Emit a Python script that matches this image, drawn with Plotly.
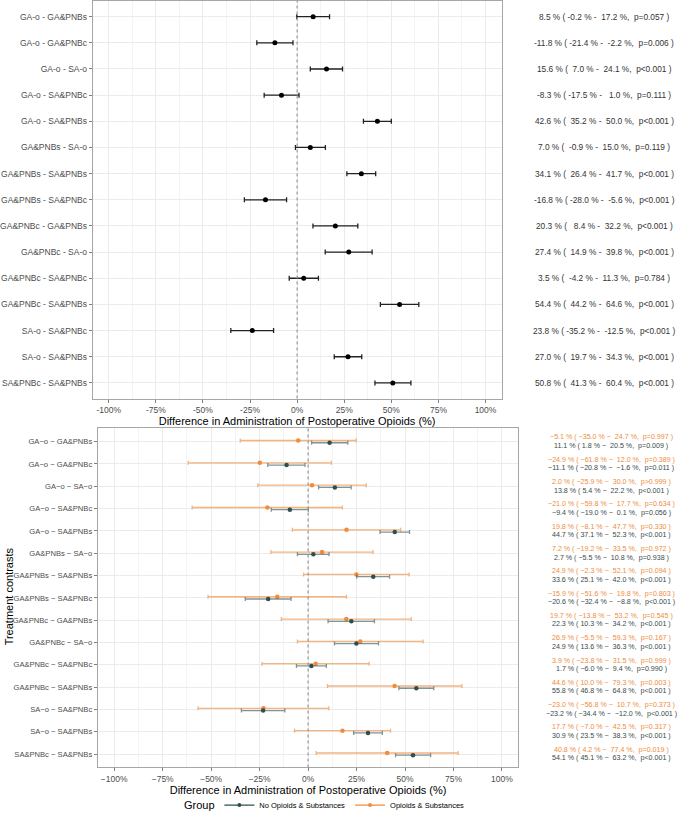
import plotly.graph_objects as go

# contrasts (top panel uses hyphens, bottom uses minus signs as in the figure)
contrasts = ["GA-o - GA&PNBs", "GA-o - GA&PNBc", "GA-o - SA-o", "GA-o - SA&PNBc",
             "GA-o - SA&PNBs", "GA&PNBs - SA-o", "GA&PNBs - SA&PNBs", "GA&PNBs - SA&PNBc",
             "GA&PNBc - GA&PNBs", "GA&PNBc - SA-o", "GA&PNBc - SA&PNBc", "GA&PNBc - SA&PNBs",
             "SA-o - SA&PNBc", "SA-o - SA&PNBs", "SA&PNBc - SA&PNBs"]
contrasts_b = [c.replace("-", "\u2212") for c in contrasts]

# top panel: overall difference (%)
all_est = [8.5, -11.8, 15.6, -8.3, 42.6, 7.0, 34.1, -16.8, 20.3, 27.4, 3.5, 54.4, -23.8, 27.0, 50.8]
all_lo = [-0.2, -21.4, 7.0, -17.5, 35.2, -0.9, 26.4, -28.0, 8.4, 14.9, -4.2, 44.2, -35.2, 19.7, 41.3]
all_hi = [17.2, -2.2, 24.1, 1.0, 50.0, 15.0, 41.7, -5.6, 32.2, 39.8, 11.3, 64.6, -12.5, 34.3, 60.4]
all_text = [
    "8.5 % ( -0.2 % -  17.2 %,  p=0.057 )",
    "-11.8 % ( -21.4 % -  -2.2 %,  p=0.006 )",
    "15.6 % (  7.0 % -  24.1 %,  p<0.001 )",
    "-8.3 % ( -17.5 % -   1.0 %,  p=0.111 )",
    "42.6 % (  35.2 % -  50.0 %,  p<0.001 )",
    "7.0 % (  -0.9 % -  15.0 %,  p=0.119 )",
    "34.1 % (  26.4 % -  41.7 %,  p<0.001 )",
    "-16.8 % ( -28.0 % -  -5.6 %,  p<0.001 )",
    "20.3 % (   8.4 % -  32.2 %,  p<0.001 )",
    "27.4 % (  14.9 % -  39.8 %,  p<0.001 )",
    "3.5 % (  -4.2 % -  11.3 %,  p=0.784 )",
    "54.4 % (  44.2 % -  64.6 %,  p<0.001 )",
    "23.8 % ( -35.2 % -  -12.5 %,  p<0.001 )",
    "27.0 % (  19.7 % -  34.3 %,  p<0.001 )",
    "50.8 % (  41.3 % -  60.4 %,  p<0.001 )",
]

# bottom panel: by group
op_est = [-5.1, -24.9, 2.0, -21.0, 19.8, 7.2, 24.9, -15.9, 19.7, 26.9, 3.9, 44.6, -23.0, 17.7, 40.8]
op_lo = [-35.0, -61.8, -25.9, -59.8, -8.1, -19.2, -2.3, -51.6, -13.8, -5.5, -23.8, 10.0, -56.8, -7.0, 4.2]
op_hi = [24.7, 12.0, 30.0, 17.7, 47.7, 33.5, 52.1, 19.8, 53.2, 59.3, 31.5, 79.3, 10.7, 42.5, 77.4]
op_p = ["=0.997", "=0.389", ">0.999", "=0.634", "=0.330", "=0.972", "=0.094", "=0.803",
        "=0.545", "=0.167", "=0.999", "=0.003", "=0.373", "=0.317", "=0.019"]

no_est = [11.1, -11.1, 13.8, -9.4, 44.7, 2.7, 33.6, -20.6, 22.3, 24.9, 1.7, 55.8, -23.2, 30.9, 54.1]
no_lo = [1.8, -20.8, 5.4, -19.0, 37.1, -5.5, 25.1, -32.4, 10.3, 13.6, -6.0, 46.8, -34.4, 23.5, 45.1]
no_hi = [20.5, -1.6, 22.2, 0.1, 52.3, 10.8, 42.0, -8.8, 34.2, 36.3, 9.4, 64.8, -12.0, 38.3, 63.2]
no_p = ["=0.009", "=0.011", "<0.001", "=0.056", "<0.001", "=0.938", "<0.001", "<0.001",
        "<0.001", "<0.001", "=0.990", "<0.001", "<0.001", "<0.001", "<0.001"]

tick_vals = [-1, -0.75, -0.5, -0.25, 0, 0.25, 0.5, 0.75, 1]
tick_top = ["-100%", "-75%", "-50%", "-25%", "0%", "25%", "50%", "75%", "100%"]
tick_bot = [t.replace("-", "\u2212") for t in tick_top]

DARK = "#2f4f4f"
ORANGE = "#f08c3c"
FONT = "Liberation Sans, Arial, sans-serif"
NB = "\u00a0"

def fmt(v):
    return f"{v:.1f}".replace("-", "\u2212")

def keep_spaces(s):
    # svg text collapses runs of spaces, so pad with non-breaking ones
    return s.replace("  ", " " + NB)

def pct(a):
    return [v / 100 for v in a]

idx = list(range(len(contrasts)))
fig = go.Figure()

# top panel
fig.add_trace(go.Scatter(
    x=pct(all_est), y=idx, mode="markers", xaxis="x", yaxis="y", showlegend=False,
    marker=dict(color="black", size=5),
    error_x=dict(type="data", symmetric=False,
                 array=[(h - e) / 100 for h, e in zip(all_hi, all_est)],
                 arrayminus=[(e - l) / 100 for e, l in zip(all_est, all_lo)],
                 color="#222222", thickness=1.3, width=2.5),
))

# bottom panel (dodged)
for name, est, lo, hi, col, bar_col, off in [
    ("Opioids & Substances", op_est, op_lo, op_hi, ORANGE, "rgba(240,140,60,0.65)", -0.05),
    ("No Opioids & Substances", no_est, no_lo, no_hi, DARK, "rgba(47,79,79,0.6)", 0.05),
]:
    fig.add_trace(go.Scatter(
        x=pct(est), y=[i + off for i in idx], mode="markers", xaxis="x2", yaxis="y2",
        showlegend=False, marker=dict(color=col, size=4.5),
        error_x=dict(type="data", symmetric=False,
                     array=[(h - e) / 100 for h, e in zip(hi, est)],
                     arrayminus=[(e - l) / 100 for e, l in zip(est, lo)],
                     color=bar_col, thickness=1.3, width=2),
    ))

# legend entries
for name, col in [("No Opioids & Substances", DARK), ("Opioids & Substances", ORANGE)]:
    fig.add_trace(go.Scatter(x=[None], y=[None], mode="lines+markers", name=name,
                             xaxis="x2", yaxis="y2",
                             line=dict(color=col, width=1.3), marker=dict(color=col, size=4)))

grid = "#ebebeb"
xcommon = dict(range=[-1.085, 1.085], tickvals=tick_vals, showgrid=True, gridcolor=grid,
               gridwidth=1, zeroline=False, showline=True, linecolor="#a6a6a6", mirror=True,
               ticks="outside", ticklen=3, tickcolor="#7f7f7f",
               minor=dict(tickvals=[-0.875, -0.625, -0.375, -0.125, 0.125, 0.375, 0.625, 0.875],
                          showgrid=True, gridcolor="#f4f4f4", ticks=""),
               tickfont=dict(size=8.5, color="#4d4d4d"),
               title=dict(text="Difference in Administration of Postoperative Opioids (%)",
                          font=dict(size=11, color="black"), standoff=3))
ycommon = dict(range=[14.6, -0.6], tickvals=idx, showgrid=True, gridcolor=grid, zeroline=False,
               showline=True, linecolor="#a6a6a6", mirror=True, ticks="outside", ticklen=3,
               tickcolor="#7f7f7f")

fig.update_layout(
    width=681, height=820, margin=dict(l=0, r=0, t=0, b=0),
    paper_bgcolor="white", plot_bgcolor="white", font=dict(family=FONT),
    xaxis=dict(domain=[91 / 681, 501 / 681], anchor="y", ticktext=tick_top, **xcommon),
    yaxis=dict(domain=[1 - 403 / 820, 1 - 1 / 820], anchor="x", ticktext=contrasts,
               tickfont=dict(size=8.5, color="#4d4d4d"), **ycommon),
    xaxis2=dict(domain=[96 / 681, 518 / 681], anchor="y2", ticktext=tick_bot, **xcommon),
    yaxis2=dict(domain=[1 - 776 / 820, 1 - 433 / 820], anchor="x2", ticktext=contrasts_b,
                tickfont=dict(size=7.6, color="#4d4d4d"), **ycommon),
    legend=dict(orientation="h", x=218 / 681, xanchor="left", y=1 - 814 / 820, yanchor="middle",
                font=dict(size=7.5, color="black"), itemwidth=30, tracegroupgap=0),
    shapes=[
        dict(type="line", xref="x", yref="y domain", x0=0, x1=0, y0=0, y1=1,
             line=dict(color="#999999", width=1.2, dash="dot")),
        dict(type="line", xref="x2", yref="y2 domain", x0=0, x1=0, y0=0, y1=1,
             line=dict(color="#999999", width=1.2, dash="dot")),
    ],
)

ann = []
for i, t in enumerate(all_text):
    ann.append(dict(x=604 / 681, xref="paper", y=i, yref="y", text=keep_spaces(t), showarrow=False,
                    xanchor="center", font=dict(size=8.3, color="#333333")))
for i in idx:
    t_op = f"{fmt(op_est[i])} % ( {fmt(op_lo[i])} % \u2212  {fmt(op_hi[i])} %,  p{op_p[i]} )"
    t_no = f"{fmt(no_est[i])} % ( {fmt(no_lo[i])} % \u2212  {fmt(no_hi[i])} %,  p{no_p[i]} )"
    ann.append(dict(x=611 / 681, xref="paper", y=i, yref="y2", text=keep_spaces(t_op),
                    showarrow=False, xanchor="center", yshift=4.3,
                    font=dict(size=7.1, color=ORANGE)))
    ann.append(dict(x=611 / 681, xref="paper", y=i, yref="y2", text=keep_spaces(t_no),
                    showarrow=False, xanchor="center", yshift=-4.3,
                    font=dict(size=7.1, color="#3a4a4a")))
ann.append(dict(x=7 / 681, xref="paper", y=1 - 603 / 820, yref="paper", text="Treatment contrasts",
                xanchor="center", yanchor="middle", textangle=-90, showarrow=False,
                font=dict(size=11, color="black")))
# legend title drawn beside the keys
ann.append(dict(x=216 / 681, xref="paper", y=1 - 814 / 820, yref="paper", text="Group",
                xanchor="right", yanchor="middle", showarrow=False,
                font=dict(size=11, color="black")))
fig.update_layout(annotations=ann)

fig.write_html("out.html", config={"displayModeBar": False},
               post_script="document.body.style.margin='0';")
